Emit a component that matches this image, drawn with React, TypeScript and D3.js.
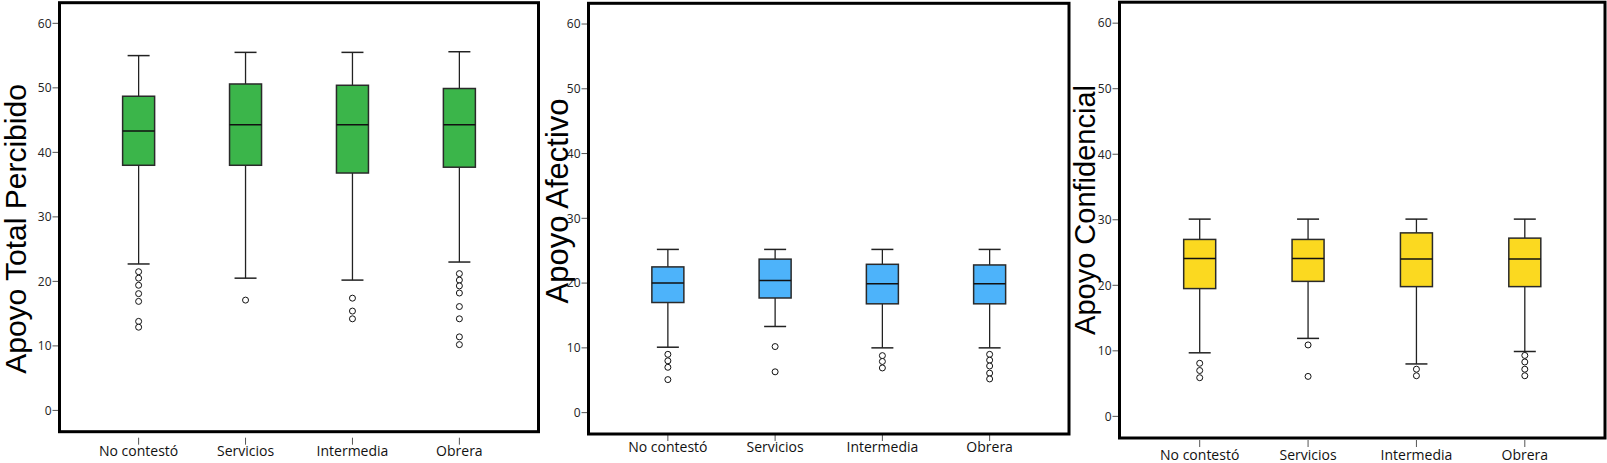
import { useEffect } from 'react'
import * as d3 from 'd3'

// categories on the x axis (same for the three panels)
const categories = ['No contestó', 'Servicios', 'Intermedia', 'Obrera']
const yTicks = [0, 10, 20, 30, 40, 50, 60]

// Apoyo Total Percibido
const totalLow = [22.7, 20.5, 20.2, 23.0]
const totalQ1 = [38.0, 38.0, 36.8, 37.7]
const totalMed = [43.3, 44.3, 44.3, 44.3]
const totalQ3 = [48.7, 50.6, 50.4, 49.9]
const totalHigh = [55.0, 55.5, 55.5, 55.6]
const totalOut = [
  [21.5, 20.5, 19.4, 18.1, 16.9, 13.8, 12.9],
  [17.1],
  [17.4, 15.4, 14.2],
  [21.2, 20.2, 19.3, 18.2, 16.1, 14.2, 11.4, 10.2],
]

// Apoyo Afectivo
const afecLow = [10.1, 13.3, 10.0, 10.0]
const afecQ1 = [17.0, 17.7, 16.8, 16.8]
const afecMed = [20.0, 20.4, 19.9, 19.9]
const afecQ3 = [22.5, 23.7, 22.9, 22.8]
const afecHigh = [25.2, 25.2, 25.2, 25.2]
const afecOut = [
  [9.0, 8.0, 7.0, 5.1],
  [10.2, 6.3],
  [8.8, 7.9, 6.9],
  [9.0, 8.1, 7.2, 6.1, 5.2],
]

// Apoyo Confidencial
const confLow = [9.7, 11.9, 8.0, 9.9]
const confQ1 = [19.5, 20.6, 19.8, 19.8]
const confMed = [24.1, 24.1, 24.0, 24.0]
const confQ3 = [27.0, 27.0, 28.0, 27.2]
const confHigh = [30.1, 30.1, 30.1, 30.1]
const confOut = [
  [8.1, 7.0, 5.9],
  [10.9, 6.1],
  [7.2, 6.2],
  [9.3, 8.3, 7.2, 6.2],
]

const panels = [
  {
    title: 'Apoyo Total Percibido',
    fill: '#3bb54a',
    low: totalLow, q1: totalQ1, med: totalMed, q3: totalQ3, high: totalHigh, out: totalOut,
    x0: 59.5, x1: 538.5, y0: 2.7, y1: 431.7,
    titleX: 26, titleY: 229, titleSize: 30, tickGap: 6, labelY: 456,
  },
  {
    title: 'Apoyo Afectivo',
    fill: '#4db3fa',
    low: afecLow, q1: afecQ1, med: afecMed, q3: afecQ3, high: afecHigh, out: afecOut,
    x0: 588.5, x1: 1069, y0: 3.3, y1: 434,
    titleX: 568, titleY: 201, titleSize: 31, tickGap: 0, labelY: 451.5,
  },
  {
    title: 'Apoyo Confidencial',
    fill: '#fbd920',
    low: confLow, q1: confQ1, med: confMed, q3: confQ3, high: confHigh, out: confOut,
    x0: 1119.5, x1: 1605, y0: 2.2, y1: 438,
    titleX: 1095, titleY: 210, titleSize: 29, tickGap: 2, labelY: 460,
  },
]

const W = 1607
const H = 463
const boxW = 32
const capW = 22
const smallFont = '"Open Sans", sans-serif'

function Panel({ p }: { p: (typeof panels)[number] }) {
  const x = d3.scalePoint<string>().domain(categories).range([p.x0, p.x1]).padding(0.74)
  const y = d3.scaleLinear().domain([-3.3, 63.2]).range([p.y1, p.y0])

  return (
    <g>
      {/* y axis ticks */}
      {yTicks.map((t) => (
        <g key={t}>
          <line x1={p.x0 - 7} x2={p.x0} y1={y(t)} y2={y(t)} stroke="#555" strokeWidth={1} />
          <text
            x={p.x0 - 8}
            y={y(t)}
            dy="0.36em"
            textAnchor="end"
            fontSize={12}
            fontFamily={smallFont}
            fill="#222"
          >
            {t}
          </text>
        </g>
      ))}

      {categories.map((c, i) => {
        const cx = x(c) as number
        return (
          <g key={c}>
            {/* whiskers */}
            <line x1={cx} x2={cx} y1={y(p.high[i])} y2={y(p.q3[i])} stroke="#222" strokeWidth={1.3} />
            <line x1={cx} x2={cx} y1={y(p.q1[i])} y2={y(p.low[i])} stroke="#222" strokeWidth={1.3} />
            <line x1={cx - capW / 2} x2={cx + capW / 2} y1={y(p.high[i])} y2={y(p.high[i])} stroke="#222" strokeWidth={1.5} />
            <line x1={cx - capW / 2} x2={cx + capW / 2} y1={y(p.low[i])} y2={y(p.low[i])} stroke="#222" strokeWidth={1.5} />
            {/* box */}
            <rect
              x={cx - boxW / 2}
              y={y(p.q3[i])}
              width={boxW}
              height={y(p.q1[i]) - y(p.q3[i])}
              fill={p.fill}
              stroke="#2a2a2a"
              strokeWidth={1.5}
            />
            <line x1={cx - boxW / 2} x2={cx + boxW / 2} y1={y(p.med[i])} y2={y(p.med[i])} stroke="#111" strokeWidth={1.5} />
            {/* outliers */}
            {p.out[i].map((v, j) => (
              <circle key={j} cx={cx} cy={y(v)} r={3} fill="white" stroke="#111" strokeWidth={1} />
            ))}
            {/* x axis tick + label */}
            <line
              x1={cx}
              x2={cx}
              y1={p.y1 + p.tickGap}
              y2={p.y1 + p.tickGap + 7}
              stroke="#555"
              strokeWidth={1}
            />
            <text
              x={cx}
              y={p.labelY}
              textAnchor="middle"
              fontSize={14}
              fontFamily={smallFont}
              fill="#111"
            >
              {c}
            </text>
          </g>
        )
      })}

      {/* frame */}
      <rect
        x={p.x0}
        y={p.y0}
        width={p.x1 - p.x0}
        height={p.y1 - p.y0}
        fill="none"
        stroke="#000"
        strokeWidth={3}
      />

      {/* axis title */}
      <text
        transform={`translate(${p.titleX},${p.titleY}) rotate(-90)`}
        textAnchor="middle"
        fontSize={p.titleSize}
        fontFamily='"Liberation Sans", Arial, sans-serif'
        fill="#000"
      >
        {p.title}
      </text>
    </g>
  )
}

export default function App() {
  useEffect(() => {
    document.body.style.margin = '0'
  }, [])

  return (
    <svg width={W} height={H} style={{ display: 'block', background: '#fff' }}>
      {panels.map((p) => (
        <Panel key={p.title} p={p} />
      ))}
    </svg>
  )
}
